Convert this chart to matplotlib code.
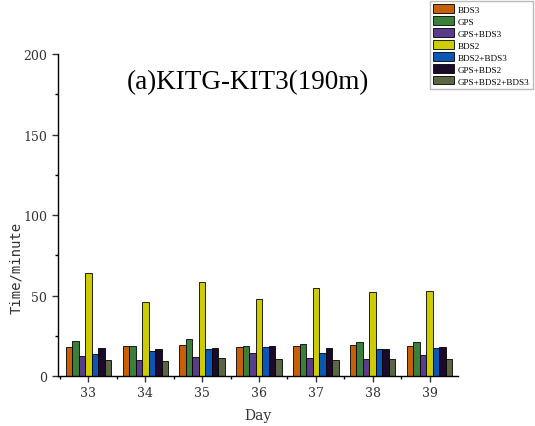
import numpy as np
import matplotlib
matplotlib.use("Agg")
import matplotlib.pyplot as plt
from matplotlib.ticker import MultipleLocator

# Data
days = [33, 34, 35, 36, 37, 38, 39]
series_names = ["BDS3", "GPS", "GPS+BDS3", "BDS2", "BDS2+BDS3", "GPS+BDS2", "GPS+BDS2+BDS3"]
bds3 = [18.3, 18.9, 19.4, 17.9, 18.5, 19.2, 18.5]
gps = [21.9, 18.6, 23.3, 18.9, 20.0, 21.0, 21.2]
gps_bds3 = [12.3, 9.8, 11.9, 14.4, 11.2, 10.8, 12.9]
bds2 = [64.2, 45.8, 58.3, 47.9, 54.8, 51.9, 52.9]
bds2_bds3 = [13.8, 15.4, 17.1, 17.9, 14.4, 16.5, 17.3]
gps_bds2 = [17.7, 17.1, 17.5, 18.6, 17.3, 17.1, 18.1]
gps_bds2_bds3 = [10.0, 9.6, 11.0, 10.4, 9.8, 10.4, 10.6]

colors = ["#c8600a", "#3a7f3a", "#5a3c8c", "#cccc00", "#0b57b8", "#1c0a2a", "#5a6644"]

values = [bds3, gps, gps_bds3, bds2, bds2_bds3, gps_bds2, gps_bds2_bds3]

fig = plt.figure(figsize=(5.35, 4.27), dpi=100)
ax = fig.add_axes([0.108, 0.117, 0.748, 0.754])

x = np.array(days, dtype=float)
width = 0.114
n = len(values)
handles = []
for i, (name, vals, col) in enumerate(zip(series_names, values, colors)):
    offset = (i - (n - 1) / 2) * width
    h = ax.bar(x + offset, vals, width, color=col, edgecolor="black", linewidth=0.6, label=name)
    handles.append(h)

ax.set_xlim(32.46, 39.5)
ax.set_ylim(0, 200)
ax.set_xticks(days)
ax.set_xticklabels([str(d) for d in days])
ax.set_xticks([d + 0.5 for d in days[:-1]] + [32.5], minor=True)
ax.yaxis.set_major_locator(MultipleLocator(50))
ax.yaxis.set_minor_locator(MultipleLocator(25))

for side in ["top", "right"]:
    ax.spines[side].set_visible(False)
ax.spines["left"].set_linewidth(1.0)
ax.spines["bottom"].set_linewidth(1.0)
ax.tick_params(axis="both", which="major", length=4, width=1.0, direction="out",
               labelsize=9, colors="#333333")
ax.tick_params(axis="both", which="minor", length=2.5, width=1.0, direction="out")
for lab in ax.get_xticklabels() + ax.get_yticklabels():
    lab.set_family("DejaVu Serif")

ax.set_xlabel("Day", family="DejaVu Serif", fontsize=10, color="#333333", labelpad=6)
ax.set_ylabel("Time/minute", family="DejaVu Sans Mono", fontsize=10, color="#333333")
ax.yaxis.set_label_coords(-0.087, 0.34)

ax.text(0.475, 0.915, "(a)KITG-KIT3(190m)", transform=ax.transAxes, ha="center", va="center",
        family="Liberation Serif", fontsize=19.5)

fig.legend(handles=handles, loc="upper left", bbox_to_anchor=(0.803, 0.995),
           prop={"family": "Liberation Serif", "size": 6.6},
           frameon=True, fancybox=False, edgecolor="#bbbbbb", framealpha=1,
           handlelength=2.3, handleheight=1.0, labelspacing=0.3, borderpad=0.35,
           handletextpad=0.45, borderaxespad=0)

fig.savefig("out.png", dpi=100)
